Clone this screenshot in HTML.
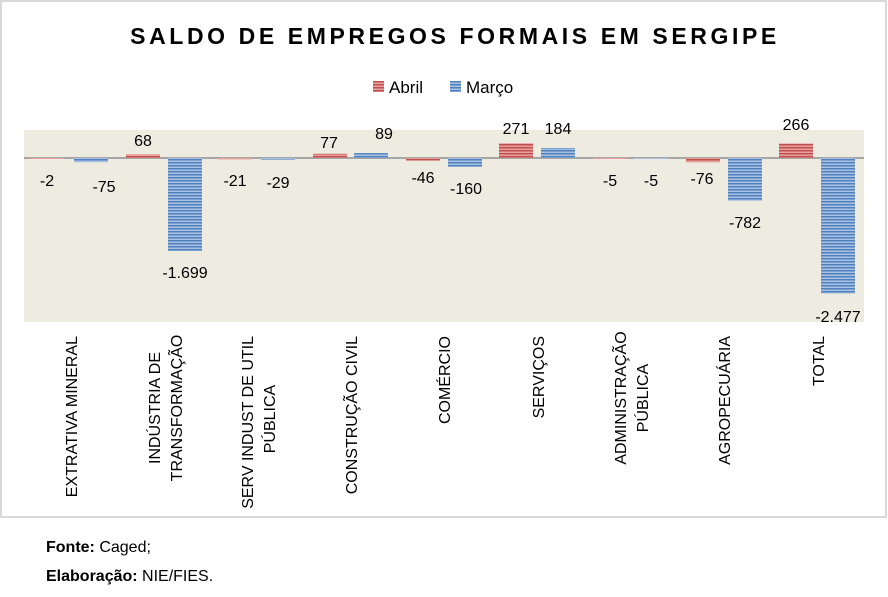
<!DOCTYPE html>
<html><head><meta charset="utf-8"><style>
body{margin:0;background:#fff;}
svg{display:block;font-family:"Liberation Sans",sans-serif;}
</style></head><body>
<svg width="888" height="597" viewBox="0 0 888 597">
<defs>
<pattern id="pr" width="4" height="3" patternUnits="userSpaceOnUse"><rect width="4" height="3" fill="#e9a1a0"/><rect width="4" height="1.5" fill="#c0504d"/></pattern>
<pattern id="pb" width="4" height="3" patternUnits="userSpaceOnUse"><rect width="4" height="3" fill="#a9c1e3"/><rect width="4" height="1.5" fill="#4f81bd"/></pattern>
</defs>
<rect x="1" y="1" width="885" height="516" fill="#fff" stroke="#d9d9d9" stroke-width="2"/>
<text x="455" y="44" text-anchor="middle" font-size="23" font-weight="bold" letter-spacing="3.6">SALDO DE EMPREGOS FORMAIS EM SERGIPE</text>
<rect x="373" y="81" width="11" height="11" fill="url(#pr)"/>
<text x="389" y="93" font-size="17">Abril</text>
<rect x="450" y="81" width="11" height="11" fill="url(#pb)"/>
<text x="466" y="93" font-size="17">Março</text>
<rect x="24" y="130" width="840" height="192" fill="#eeece1"/>
<line x1="24" y1="158" x2="864" y2="158" stroke="#a6a6a6" stroke-width="2"/>
<g>
<rect x="30" y="158" width="34" height="1" fill="url(#pr)"/>
<rect x="74" y="158" width="34" height="4.1" fill="url(#pb)"/>
<rect x="126" y="154.3" width="34" height="3.7" fill="url(#pr)"/>
<rect x="168" y="158" width="34" height="93" fill="url(#pb)"/>
<rect x="218" y="158" width="34" height="1.2" fill="url(#pr)"/>
<rect x="261" y="158" width="34" height="1.6" fill="url(#pb)"/>
<rect x="313" y="153.8" width="34" height="4.2" fill="url(#pr)"/>
<rect x="354" y="153.1" width="34" height="4.9" fill="url(#pb)"/>
<rect x="406" y="158" width="34" height="2.5" fill="url(#pr)"/>
<rect x="448" y="158" width="34" height="8.8" fill="url(#pb)"/>
<rect x="499" y="143.2" width="34" height="14.8" fill="url(#pr)"/>
<rect x="541" y="148" width="34" height="10" fill="url(#pb)"/>
<rect x="593" y="158" width="34" height="1" fill="url(#pr)"/>
<rect x="634" y="158" width="34" height="1" fill="url(#pb)"/>
<rect x="686" y="158" width="34" height="4.2" fill="url(#pr)"/>
<rect x="728" y="158" width="34" height="42.8" fill="url(#pb)"/>
<rect x="779" y="143.4" width="34" height="14.6" fill="url(#pr)"/>
<rect x="821" y="158" width="34" height="135.6" fill="url(#pb)"/>
</g>
<g font-size="16" text-anchor="middle" fill="#000">
<text x="47" y="186">-2</text>
<text x="104" y="192">-75</text>
<text x="143" y="146">68</text>
<text x="185" y="278">-1.699</text>
<text x="235" y="186">-21</text>
<text x="278" y="188">-29</text>
<text x="329" y="148">77</text>
<text x="384" y="139">89</text>
<text x="423" y="183">-46</text>
<text x="466" y="194">-160</text>
<text x="516" y="134">271</text>
<text x="558" y="134">184</text>
<text x="610" y="186">-5</text>
<text x="651" y="186">-5</text>
<text x="702" y="184">-76</text>
<text x="745" y="228">-782</text>
<text x="796" y="130">266</text>
<text x="838" y="322">-2.477</text>
</g>
<g font-size="16" text-anchor="end">
<text transform="translate(77,336) rotate(-90)">EXTRATIVA MINERAL</text>
<text transform="translate(160,408) rotate(-90)" text-anchor="middle">INDÚSTRIA DE</text>
<text transform="translate(182,408) rotate(-90)" text-anchor="middle">TRANSFORMAÇÃO</text>
<text transform="translate(253,336) rotate(-90)">SERV INDUST DE UTIL</text>
<text transform="translate(275,419) rotate(-90)" text-anchor="middle">PÚBLICA</text>
<text transform="translate(357,336) rotate(-90)">CONSTRUÇÃO CIVIL</text>
<text transform="translate(450,336) rotate(-90)">COMÉRCIO</text>
<text transform="translate(544,336) rotate(-90)">SERVIÇOS</text>
<text transform="translate(626,398) rotate(-90)" text-anchor="middle">ADMINISTRAÇÃO</text>
<text transform="translate(648,398) rotate(-90)" text-anchor="middle">PÚBLICA</text>
<text transform="translate(730,336) rotate(-90)">AGROPECUÁRIA</text>
<text transform="translate(824,336) rotate(-90)">TOTAL</text>
</g>
<text x="46" y="552" font-size="16"><tspan font-weight="bold">Fonte:</tspan> Caged;</text>
<text x="46" y="581" font-size="16"><tspan font-weight="bold">Elaboração:</tspan> NIE/FIES.</text>
</svg>
</body></html>
